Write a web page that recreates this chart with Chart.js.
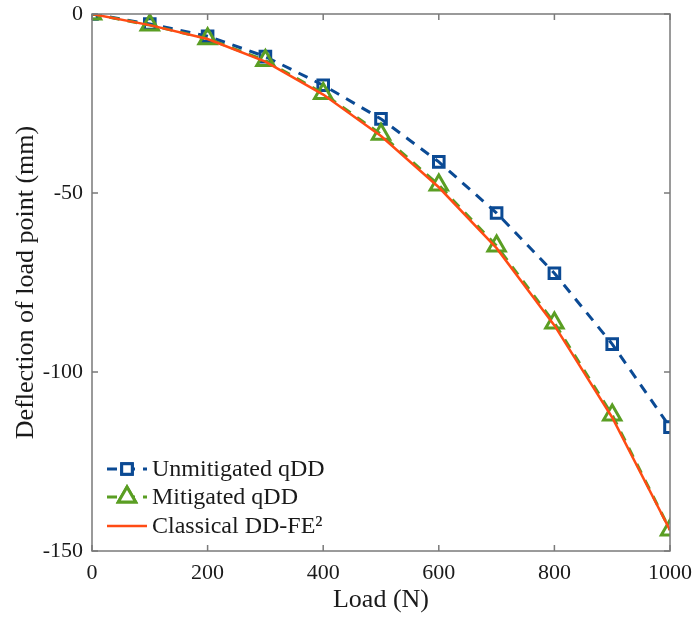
<!DOCTYPE html>
<html>
<head>
<meta charset="utf-8">
<script src="https://cdn.jsdelivr.net/npm/chart.js@4/dist/chart.umd.min.js"></script>
<style>
html, body { margin: 0; padding: 0; background: #fff; }
#wrap { width: 694px; height: 618px; }
</style>
</head>
<body>
<div id="wrap"><canvas id="deflChart" width="694" height="618"></canvas></div>
<script>
// load steps (N)
const loads = [0, 100, 200, 300, 400, 500, 600, 700, 800, 900, 1000];
// deflection of load point (mm)
const unmitigated = [0, -2.8, -6.2, -11.9, -19.9, -29.3, -41.3, -55.6, -72.4, -92.2, -115.4];
const mitigated = [0, -3.1, -6.9, -13.0, -22.2, -33.6, -47.8, -64.8, -86.3, -112.0, -144.1];
const classical = [0, -3.1, -7.0, -13.3, -22.5, -34.1, -48.4, -65.4, -87.0, -112.7, -144.2];

const xTicks = [0, 200, 400, 600, 800, 1000];
const yTicks = [0, -50, -100, -150];

const seriesNames = ['Unmitigated qDD', 'Mitigated qDD', 'Classical DD-FE²'];

const blue = '#0b4a94';
const green = '#5a9e23';
const red = '#ff4b14';
const axisGrey = '#7a7a7a';
const FONT = "'Liberation Serif', 'DejaVu Serif', serif";

function pts(ys) {
  return loads.map((x, i) => ({ x: x, y: ys[i] }));
}

// frame box + inward ticks on all four sides
const frame = {
  id: 'frame',
  afterDatasetsDraw(chart) {
    const ctx = chart.ctx;
    const a = chart.chartArea;
    const xs = chart.scales.x, ys = chart.scales.y;
    ctx.save();
    ctx.strokeStyle = axisGrey;
    ctx.lineWidth = 1.5;
    ctx.strokeRect(a.left, a.top, a.right - a.left, a.bottom - a.top);
    ctx.beginPath();
    xTicks.forEach(v => {
      const px = xs.getPixelForValue(v);
      ctx.moveTo(px, a.bottom); ctx.lineTo(px, a.bottom - 6);
      ctx.moveTo(px, a.top); ctx.lineTo(px, a.top + 6);
    });
    yTicks.forEach(v => {
      const py = ys.getPixelForValue(v);
      ctx.moveTo(a.left, py); ctx.lineTo(a.left + 6, py);
      ctx.moveTo(a.right, py); ctx.lineTo(a.right - 6, py);
    });
    ctx.stroke();
    ctx.restore();
  }
};

// legend inside the lower-left corner, no box
const insideLegend = {
  id: 'insideLegend',
  afterDraw(chart) {
    const ctx = chart.ctx;
    const a = chart.chartArea;
    const x0 = a.left + 15, x1 = a.left + 55, xm = a.left + 35, xt = a.left + 60;
    const rows = [a.bottom - 82, a.bottom - 54, a.bottom - 25];
    ctx.save();
    ctx.font = '24px ' + FONT;
    ctx.textBaseline = 'middle';
    chart.data.datasets.forEach((ds, i) => {
      const y = rows[i];
      ctx.strokeStyle = ds.borderColor;
      ctx.lineWidth = ds.borderWidth;
      ctx.setLineDash(ds.borderDash || []);
      ctx.beginPath();
      ctx.moveTo(x0, y); ctx.lineTo(x1, y);
      ctx.stroke();
      ctx.setLineDash([]);
      if (ds.pointRadius > 0) {
        const opt = { pointStyle: ds.pointStyle, radius: ds.pointRadius, borderWidth: ds.pointBorderWidth };
        ctx.fillStyle = '#fff';
        Chart.helpers.drawPoint(ctx, opt, xm, y);
        ctx.fill();
        ctx.strokeStyle = ds.pointBorderColor;
        ctx.lineWidth = ds.pointBorderWidth;
        Chart.helpers.drawPoint(ctx, opt, xm, y);
      }
      ctx.fillStyle = '#1a1a1a';
      ctx.fillText(ds.label, xt, y + 1);
    });
    ctx.restore();
  }
};

new Chart(document.getElementById('deflChart').getContext('2d'), {
  type: 'line',
  data: {
    datasets: [{
      label: seriesNames[0],
      data: pts(unmitigated),
      borderColor: blue,
      borderWidth: 3,
      borderDash: [10, 8],
      pointStyle: 'rect',
      pointRadius: 7.5,
      pointBorderWidth: 3,
      pointBorderColor: blue,
      pointBackgroundColor: 'rgba(0,0,0,0)',
      order: 3
    }, {
      label: seriesNames[1],
      data: pts(mitigated),
      borderColor: green,
      borderWidth: 3,
      borderDash: [10, 8],
      pointStyle: 'triangle',
      pointRadius: 10,
      pointBorderWidth: 3,
      pointBorderColor: green,
      pointBackgroundColor: 'rgba(0,0,0,0)',
      order: 2
    }, {
      label: seriesNames[2],
      data: pts(classical),
      borderColor: red,
      borderWidth: 2.5,
      pointRadius: 0,
      order: 1
    }]
  },
  options: {
    responsive: false,
    animation: false,
    layout: { padding: { left: 0, right: 24, top: 14, bottom: 0 } },
    plugins: {
      legend: { display: false },
      tooltip: { enabled: false }
    },
    scales: {
      x: {
        type: 'linear',
        min: 0,
        max: 1000,
        afterBuildTicks: s => { s.ticks = xTicks.map(v => ({ value: v })); },
        afterFit: s => { s.height = 67; s.paddingLeft = 0; s.paddingRight = 0; },
        grid: { display: false, drawTicks: false, tickLength: 0 },
        border: { display: false },
        ticks: {
          color: '#1a1a1a', font: { family: FONT, size: 22 }, padding: 9, maxRotation: 0,
          callback: v => String(v)
        },
        title: { display: true, text: 'Load (N)', color: '#1a1a1a', font: { family: FONT, size: 26 }, padding: { top: 0, bottom: 2 } }
      },
      y: {
        type: 'linear',
        min: -150,
        max: 0,
        afterBuildTicks: s => { s.ticks = yTicks.map(v => ({ value: v })); },
        afterFit: s => { s.width = 92; s.paddingTop = 0; s.paddingBottom = 0; },
        grid: { display: false, drawTicks: false, tickLength: 0 },
        border: { display: false },
        ticks: { color: '#1a1a1a', font: { family: FONT, size: 22 }, padding: 9, callback: v => String(v) },
        title: { display: true, text: 'Deflection of load point (mm)', color: '#1a1a1a', font: { family: FONT, size: 26 }, padding: { top: 11, bottom: 0 } }
      }
    }
  },
  plugins: [frame, insideLegend]
});
</script>
</body>
</html>
